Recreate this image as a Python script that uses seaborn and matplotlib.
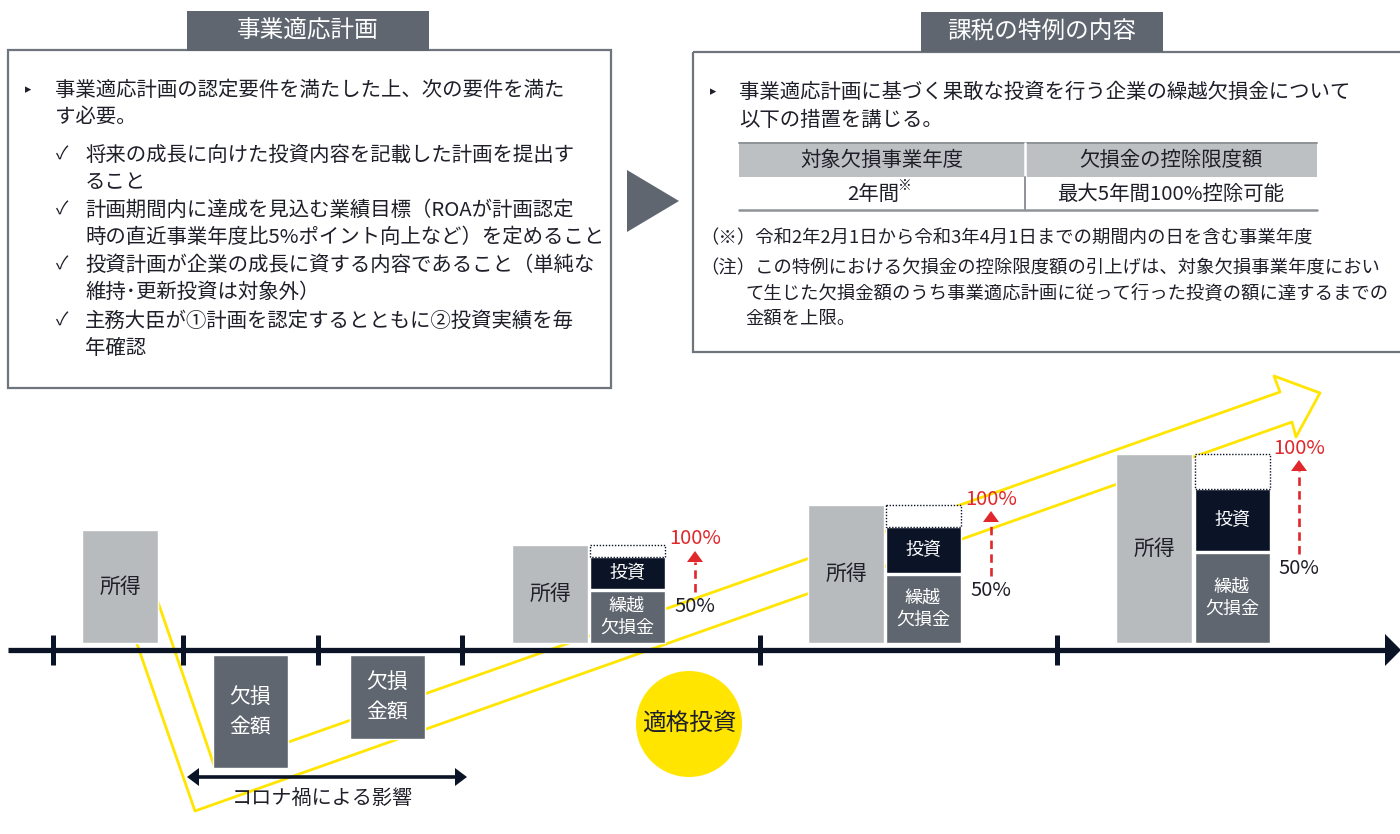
import matplotlib
matplotlib.use("Agg")
import matplotlib.pyplot as plt
from matplotlib.patches import Rectangle, Polygon, Circle
import seaborn as sns

# ---------------- values ----------------
pre_income = [113]                 # income before the loss years
loss_amounts = [113, 84]           # losses in the two affected years
income = [98, 138, 189]            # income in the qualifying-investment years
carryforward = [52, 68, 90]        # carried-forward losses deducted (50% part)
investment = [32, 46, 62]          # qualifying investment (extra deduction)
low_label, high_label = "50%", "100%"

income_label = "所得"
loss_label = "欠損\n金額"
invest_label = "投資"
carry_label = "繰越\n欠損金"
circle_label = "適格投資"
span_label = "コロナ禍による影響"

plan_title = "事業適応計画"
plan_lead = ["事業適応計画の認定要件を満たした上、次の要件を満た", "す必要。"]
plan_items = [
    ["将来の成長に向けた投資内容を記載した計画を提出す", "ること"],
    ["計画期間内に達成を見込む業績目標（ROAが計画認定", "時の直近事業年度比5%ポイント向上など）を定めること"],
    ["投資計画が企業の成長に資する内容であること（単純な", "維持･更新投資は対象外）"],
    ["主務大臣が①計画を認定するとともに②投資実績を毎", "年確認"],
]

tax_title = "課税の特例の内容"
tax_lead = ["事業適応計画に基づく果敢な投資を行う企業の繰越欠損金について", "以下の措置を講じる。"]
table_header = ["対象欠損事業年度", "欠損金の控除限度額"]
table_row = ["2年間", "最大5年間100%控除可能"]
table_mark = "※"
note_mark = "（※）令和2年2月1日から令和3年4月1日までの期間内の日を含む事業年度"
note_main = ["（注）この特例における欠損金の控除限度額の引上げは、対象欠損事業年度におい",
             "て生じた欠損金額のうち事業適応計画に従って行った投資の額に達するまでの",
             "金額を上限。"]

# ---------------- style ----------------
NAVY = "#0b1326"
DARK = "#5f6670"
LIGHT = "#b7bbbe"
YELLOW = "#ffe500"
RED = "#e0282c"
TXT = "#1e1f29"
BORDER = "#6f757c"

sns.set_theme(style="white")
plt.rcParams["font.family"] = ["Noto Sans CJK JP", "DejaVu Sans"]

fig = plt.figure(figsize=(14, 8.34), dpi=100)
ax = fig.add_axes([0, 0, 1, 1])

def txt(x, y, s, size=14.7, color=TXT, ha="left", va="center", **kw):
    ax.text(x, y, s, fontsize=size, color=color, ha=ha, va=va, zorder=10, **kw)

# ---------------- upper left panel ----------------
ax.add_patch(Rectangle((8, 50), 603, 338, fill=False, ec=BORDER, lw=1.6, zorder=2))
ax.add_patch(Rectangle((187, 11), 242, 40, fc=DARK, ec="none", zorder=3))
txt(308, 31, plan_title, size=17, color="white", ha="center")
txt(28, 90, "▸", size=9, color=TXT, ha="center")
for i, line in enumerate(plan_lead):
    txt(55, 90 + 27 * i, line)
item_rows = [155, 210, 265, 321]
for y0, lines in zip(item_rows, plan_items):
    txt(62, y0, "✓", size=13, ha="center")
    for j, line in enumerate(lines):
        txt(85, y0 + 27 * j, line)

# arrow between panels
ax.add_patch(Polygon([(627, 170), (627, 232), (679, 201)], closed=True, fc=DARK, ec="none"))

# ---------------- upper right panel ----------------
ax.add_patch(Rectangle((693, 52), 730, 300, fill=False, ec=BORDER, lw=1.6, zorder=2))
ax.add_patch(Rectangle((921, 12), 242, 40, fc=DARK, ec="none", zorder=3))
txt(1042, 32, tax_title, size=17, color="white", ha="center")
txt(713, 92, "▸", size=9, ha="center")
for i, line in enumerate(tax_lead):
    txt(739, 92 + 28 * i, line)

# table
ax.add_patch(Rectangle((739, 143), 578, 34, fc="#bcc0c3", ec="none", zorder=2))
ax.plot([739, 1317], [143, 143], color="#8e9398", lw=1.4, zorder=3)
ax.plot([739, 1317], [210, 210], color="#8e9398", lw=1.8, zorder=3)
ax.plot([1025, 1025], [143, 177], color="white", lw=1.8, zorder=3)
ax.plot([1025, 1025], [177, 210], color="#8e9398", lw=1.4, zorder=3)
txt(882, 160, table_header[0], ha="center")
txt(1171, 160, table_header[1], ha="center")
txt(873, 194, table_row[0], ha="center")
txt(905, 186, table_mark, size=10, ha="center")
txt(1171, 194, table_row[1], ha="center")

txt(700, 238, note_mark, size=13.2)
txt(700, 268, note_main[0], size=13.2)
txt(745, 294, note_main[1], size=13.2)
txt(745, 319, note_main[2], size=13.2)

# ---------------- lower chart ----------------
BASE = 643        # top edge of the time axis (bars stand on it)
LOSS_TOP = 655    # loss bars hang below the axis
AXIS_Y = 650

# growth arrow outline (yellow)
path_x = [120, 195, 1292, 1296, 1320, 1274, 1280, 215, 147, 120]
path_y = [595, 811, 422, 437, 393, 376, 392, 768, 570, 595]
sns.lineplot(x=path_x, y=path_y, sort=False, estimator=None, ax=ax,
             color=YELLOW, lw=2.0, zorder=1)

# time axis
ax.plot([8, 1386], [AXIS_Y, AXIS_Y], color=NAVY, lw=3.8, solid_capstyle="butt", zorder=4)
ax.add_patch(Polygon([(1385, 634), (1385, 666), (1401, 650)], closed=True, fc=NAVY, ec="none", zorder=4))
for tx in [53, 183, 318, 462, 760, 1057]:
    ax.plot([tx, tx], [635, 665], color=NAVY, lw=3.6, solid_capstyle="butt", zorder=4)

# income before the crisis
ax.bar([120], [-v for v in pre_income], bottom=BASE, width=76, color=LIGHT, zorder=5)
txt(120, BASE - pre_income[0] / 2, income_label, size=15, ha="center")

# loss years
loss_x = [250.5, 387.5]
ax.bar(loss_x, loss_amounts, bottom=LOSS_TOP, width=75, color=DARK, zorder=5)
for lx, v in zip(loss_x, loss_amounts):
    txt(lx, LOSS_TOP + v / 2, loss_label, size=15, color="white", ha="center", linespacing=1.45)

# years with qualifying investment
inc_x = [550, 846, 1154]
stk_x = [627, 923, 1232]
arr_x = [695, 991, 1299]
GAP = 2
for k in range(3):
    inc, cf, inv = income[k], carryforward[k], investment[k]
    ax.bar([inc_x[k]], [-inc], bottom=BASE, width=76, color=LIGHT, zorder=5)
    txt(inc_x[k], BASE - inc / 2, income_label, size=15, ha="center")
    ax.bar([stk_x[k]], [-cf], bottom=BASE, width=75, color=DARK, zorder=5)
    txt(stk_x[k], BASE - cf / 2, carry_label, size=13, color="white", ha="center", linespacing=1.3)
    inv_bottom = BASE - cf - GAP
    ax.bar([stk_x[k]], [-inv], bottom=inv_bottom, width=75, color=NAVY, zorder=5)
    txt(stk_x[k], inv_bottom - inv / 2, invest_label, size=13, color="white", ha="center")
    rest = inc - cf - GAP - inv
    ax.add_patch(Rectangle((stk_x[k] - 37.5, BASE - inc), 75, rest, fc="white", ec=NAVY,
                           lw=1.0, ls=(0, (1, 1.2)), zorder=5))
    # 50% -> 100% arrow
    top = BASE - inc
    y50 = BASE - cf + 15
    head_tip = top + 6
    head_base = head_tip + 11
    ax.plot([arr_x[k], arr_x[k]], [y50 - 14, head_base], color=RED, lw=1.9,
            dashes=(3.2, 2.0), zorder=6)
    ax.add_patch(Polygon([(arr_x[k] - 8, head_base), (arr_x[k] + 8, head_base), (arr_x[k], head_tip)],
                         closed=True, fc=RED, ec="none", zorder=6))
    txt(arr_x[k], head_tip - 12, high_label, size=14.5, color=RED, ha="center")
    txt(arr_x[k], y50, low_label, size=14.5, ha="center")

# qualifying investment marker
ax.add_patch(Circle((689, 724), 53, fc=YELLOW, ec="none", zorder=5))
txt(689, 724, circle_label, size=17, ha="center")

# crisis period span
ax.plot([197, 456], [777, 777], color=NAVY, lw=2.6, zorder=6)
ax.add_patch(Polygon([(187, 777), (199, 768), (199, 786)], closed=True, fc=NAVY, ec="none", zorder=6))
ax.add_patch(Polygon([(467, 777), (455, 768), (455, 786)], closed=True, fc=NAVY, ec="none", zorder=6))
txt(322, 798, span_label, size=14.5, ha="center")

ax.set_xlim(0, 1400)
ax.set_ylim(834, 0)
ax.axis("off")
fig.savefig("out.png", dpi=100, facecolor="white")
